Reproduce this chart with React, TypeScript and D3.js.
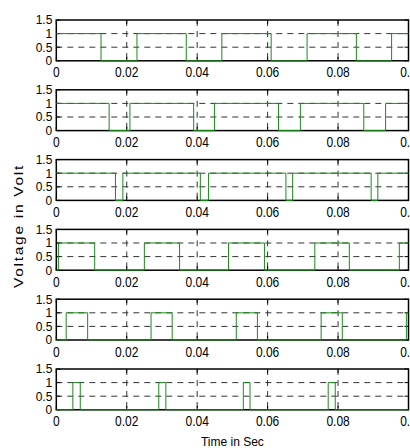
import React from "react";
import * as d3 from "d3";

// switching instants (s), one array per subplot
const wave1Start = 1;
const wave1Edges = [0.0127, 0.0229, 0.0369, 0.047, 0.061, 0.0712, 0.0852, 0.0952];
const wave2Start = 1;
const wave2Edges = [0.015, 0.0209, 0.039, 0.0449, 0.0631, 0.0693, 0.0873, 0.0935];
const wave3Start = 1;
const wave3Edges = [0.0168, 0.0189, 0.0409, 0.0432, 0.0652, 0.0671, 0.0894, 0.0913];
const wave4Start = 0;
const wave4Edges = [0.0006, 0.0109, 0.025, 0.035, 0.0489, 0.0591, 0.0734, 0.0832, 0.0974];
const wave5Start = 0;
const wave5Edges = [0.0028, 0.0089, 0.0269, 0.0329, 0.0511, 0.0571, 0.0752, 0.0812, 0.0994];
const wave6Start = 0;
const wave6Edges = [0.0047, 0.0068, 0.0291, 0.0311, 0.0531, 0.055, 0.0772, 0.0792];

const waves = [
  {start: wave1Start, edges: wave1Edges},
  {start: wave2Start, edges: wave2Edges},
  {start: wave3Start, edges: wave3Edges},
  {start: wave4Start, edges: wave4Edges},
  {start: wave5Start, edges: wave5Edges},
  {start: wave6Start, edges: wave6Edges},
];

const xTicks = [0, 0.02, 0.04, 0.06, 0.08, 0.1];
const xTickLabels = ["0", "0.02", "0.04", "0.06", "0.08", "0.1"];
const yTicks = [0, 0.5, 1, 1.5];
const yTickLabels = ["0", "0.5", "1", "1.5"];
const xGrid = [0.02, 0.04, 0.06, 0.08];
const yGrid = [0.5, 1];

const W = 410, H = 448;
const left = 56.3, right = 408.5;
const top0 = 20, step = 69.8, plotH = 40.8;
const font = "'Liberation Sans', Arial, sans-serif";

const toPoints = (start: number, edges: number[]) => {
  const pts: [number, number][] = [[0, start]];
  let v = start;
  edges.forEach(t => { v = 1 - v; pts.push([t, v]); });
  pts.push([0.1, v]);
  return pts;
};

const Panel = ({i}: {i: number}) => {
  const top = top0 + i * step;
  const x = d3.scaleLinear().domain([0, 0.1]).range([left, right]);
  const y = d3.scaleLinear().domain([0, 1.5]).range([top + plotH, top]);
  const line = d3.line<[number, number]>()
    .x(d => x(d[0]))
    .y(d => y(d[1]))
    .curve(d3.curveStepAfter);
  const w = waves[i];
  return (
    <g>
      {xGrid.map(t => (
        <line key={"gx" + t} x1={x(t)} x2={x(t)} y1={top} y2={top + plotH}
          stroke="#333" strokeWidth={1} strokeDasharray="6,5" />
      ))}
      {yGrid.map(v => (
        <line key={"gy" + v} x1={left} x2={right} y1={y(v)} y2={y(v)}
          stroke="#333" strokeWidth={1} strokeDasharray="6,5" />
      ))}
      {xTicks.map(t => (
        <g key={"tx" + t}>
          <line x1={x(t)} x2={x(t)} y1={top} y2={top + 4} stroke="#000" />
          <line x1={x(t)} x2={x(t)} y1={top + plotH} y2={top + plotH - 4} stroke="#000" />
        </g>
      ))}
      {yTicks.map(v => (
        <g key={"ty" + v}>
          <line x1={left} x2={left + 4} y1={y(v)} y2={y(v)} stroke="#000" />
          <line x1={right} x2={right - 4} y1={y(v)} y2={y(v)} stroke="#000" />
        </g>
      ))}
      <rect x={left} y={top} width={right - left} height={plotH}
        fill="none" stroke="#000" strokeWidth={1.5} />
      <path d={line(toPoints(w.start, w.edges)) || ""} fill="none"
        stroke="#1a8c1a" strokeWidth={1} />
      {xTicks.map((t, k) => (
        <text key={"lx" + t} transform={`translate(${x(t)},${top + plotH + 16.5}) scale(1,1.22)`}
          textAnchor="middle" fontSize={12} fontFamily={font}>{xTickLabels[k]}</text>
      ))}
      {yTicks.map((v, k) => (
        <text key={"ly" + v} transform={`translate(${left - 4},${y(v) + 4.4}) scale(1,1.12)`}
          textAnchor="end" fontSize={12} fontFamily={font}>{yTickLabels[k]}</text>
      ))}
    </g>
  );
};

export default function App() {
  return (
    <svg width={W} height={H} style={{position: "absolute", left: 0, top: 0, background: "#fff"}}>
      {waves.map((_, i) => <Panel key={i} i={i} />)}
      <text transform={`translate(${left + (right - left) / 2},${446}) scale(1,1.1)`}
        textAnchor="middle" fontSize={12} fontFamily={font}>Time in Sec</text>
      <text transform={`translate(23,226) rotate(-90) scale(1.3,1.05)`}
        textAnchor="middle" fontSize={12} letterSpacing={1.3} fontFamily={font}>Voltage in Volt</text>
    </svg>
  );
}
